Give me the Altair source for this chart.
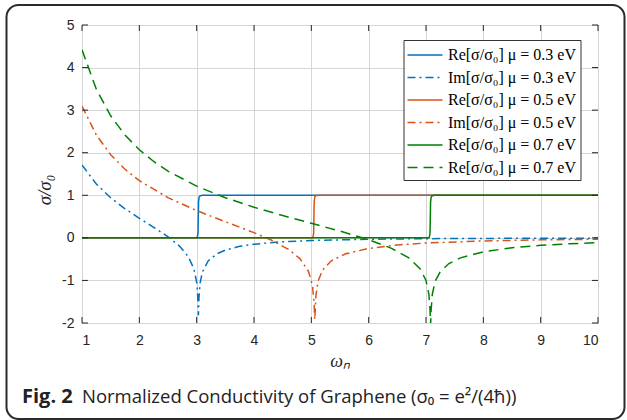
import altair as alt
import pandas as pd

# ---- conductivity samples (normalized frequency -> sigma/sigma0) ----
# Real parts: interband step at the 2*mu threshold
re03_w = [1.0, 3.008, 3.023, 3.033, 3.043, 3.063, 3.098, 10.0]
re05_w = [1.0, 5.025, 5.040, 5.050, 5.060, 5.080, 5.115, 10.0]
re07_w = [1.0, 7.055, 7.070, 7.080, 7.090, 7.110, 7.145, 10.0]
re_step_v = [0.0, 0.0, 0.1, 0.85, 0.96, 0.99, 1.0, 1.0]

# Imaginary parts, mu = 0.3 eV
im03_w = [1.0, 1.25, 1.5, 1.75, 2.0, 2.25, 2.5, 2.7, 2.85, 2.95, 3.0, 3.02, 3.025, 3.03,
          3.035, 3.04, 3.06, 3.1, 3.2, 3.35, 3.5, 3.75, 4.0, 4.5, 5.0, 6.0, 7.0, 8.0, 9.0, 10.0]
im03_v = [1.711, 1.264, 0.941, 0.683, 0.460, 0.249, 0.025, -0.194, -0.433, -0.719, -1.045,
          -1.400, -1.622, -1.82, -1.625, -1.405, -1.061, -0.801, -0.544, -0.377, -0.287,
          -0.199, -0.148, -0.091, -0.062, -0.033, -0.019, -0.013, -0.009, -0.006]

# Imaginary parts, mu = 0.5 eV
im05_w = [1.0, 1.25, 1.5, 1.75, 2.0, 2.5, 3.0, 3.5, 4.0, 4.3, 4.6, 4.8, 4.95, 5.02, 5.05, 5.058,
          5.065, 5.08, 5.12, 5.2, 5.35, 5.6, 6.0, 6.5, 7.0, 8.0, 9.0, 10.0]
im05_v = [3.094, 2.417, 1.953, 1.611, 1.345, 0.944, 0.640, 0.379, 0.122, -0.050, -0.269,
          -0.486, -0.785, -1.118, -1.564, -1.92, -1.787, -1.349, -1.005, -0.748, -0.538,
          -0.374, -0.248, -0.167, -0.121, -0.072, -0.047, -0.033]

# Imaginary parts, mu = 0.7 eV
im07_w = [1.0, 1.25, 1.5, 1.75, 2.0, 2.25, 2.5, 3.0, 3.5, 4.0, 4.5, 5.0, 5.5, 6.0, 6.4, 6.7,
          6.9, 7.0, 7.05, 7.07, 7.08, 7.09, 7.11, 7.16, 7.25, 7.4, 7.6, 8.0, 8.5, 9.0, 9.5, 10.0]
im07_v = [4.417, 3.492, 2.868, 2.415, 2.069, 1.794, 1.568, 1.215, 0.943, 0.719, 0.524, 0.342,
          0.159, -0.043, -0.247, -0.470, -0.732, -1.002, -1.320, -1.672, -2.05, -1.674,
          -1.327, -1.020, -0.790, -0.604, -0.470, -0.327, -0.232, -0.176, -0.138, -0.112]

series_keys = ["re03", "im03", "re05", "im05", "re07", "im07"]
series_labels = [
    "Re[σ/σ₀] μ = 0.3 eV",
    "Im[σ/σ₀] μ = 0.3 eV",
    "Re[σ/σ₀] μ = 0.5 eV",
    "Im[σ/σ₀] μ = 0.5 eV",
    "Re[σ/σ₀] μ = 0.7 eV",
    "Re[σ/σ₀] μ = 0.7 eV",
]
series_colors = ["#0072BD", "#0072BD", "#D95319", "#D95319", "#008000", "#008000"]
series_dashes = [[1, 0], [8, 4, 2, 4], [1, 0], [8, 4, 2, 4], [1, 0], [10, 6]]

x_ticks = list(range(1, 11))
y_ticks = list(range(-2, 6))

W, H = 516, 298

# ---- long-form table ----
frames = []
for key, w, v in [
    ("re03", re03_w, re_step_v),
    ("im03", im03_w, im03_v),
    ("re05", re05_w, re_step_v),
    ("im05", im05_w, im05_v),
    ("re07", re07_w, re_step_v),
    ("im07", im07_w, im07_v),
]:
    frames.append(pd.DataFrame({"omega": w, "value": v, "series": key}))
data = pd.concat(frames, ignore_index=True)

label_expr = " : ".join(
    f"datum.value == '{k}' ? '{lab}'" for k, lab in zip(series_keys, series_labels)
) + " : ''"

legend = alt.Legend(
    orient="none",
    legendX=321.5,
    legendY=15,
    symbolType="M-1.75,0H1.75",
    symbolSize=400,
    symbolStrokeWidth=1.5,
    symbolOffset=6.5,
    labelOffset=12,
    labelFont="Liberation Serif",
    labelFontSize=16,
    labelColor="black",
    labelLimit=400,
    labelExpr=label_expr,
    rowPadding=3.5,
    padding=4,
    strokeColor="#333333",
    fillColor="white",
)

x_scale = alt.Scale(domain=[1, 10], nice=False, zero=False)
y_scale = alt.Scale(domain=[-2, 5], nice=False, zero=False)

axis_common = dict(
    grid=True,
    gridColor="#d6d6d6",
    gridWidth=1,
    ticks=False,
    domain=False,
    labelFont="Liberation Sans",
    labelFontSize=14,
    labelColor="#262626",
    labelExpr="'' + datum.value",
    title=None,
)
x_axis = alt.Axis(values=x_ticks, labelPadding=10, **axis_common)
y_axis = alt.Axis(values=y_ticks, labelPadding=8, **axis_common)

lines = alt.Chart(data).mark_line(clip=True, strokeWidth=1.5).encode(
    x=alt.X("omega:Q", scale=x_scale, axis=x_axis),
    y=alt.Y("value:Q", scale=y_scale, axis=y_axis),
    color=alt.Color("series:N", title=None,
                    scale=alt.Scale(domain=series_keys, range=series_colors),
                    legend=legend),
    strokeDash=alt.StrokeDash("series:N", title=None,
                              scale=alt.Scale(domain=series_keys, range=series_dashes),
                              legend=legend),
)

# inward tick marks on all four sides of the box
xt = pd.DataFrame({"xt": x_ticks})
yt = pd.DataFrame({"yt": y_ticks})
tick_style = dict(color="#262626", strokeWidth=1)
ticks_bottom = alt.Chart(xt).mark_rule(**tick_style).encode(
    x=alt.X("xt:Q", scale=x_scale, axis=x_axis), y=alt.value(H), y2=alt.value(H - 6))
ticks_top = alt.Chart(xt).mark_rule(**tick_style).encode(
    x=alt.X("xt:Q", scale=x_scale, axis=x_axis), y=alt.value(0), y2=alt.value(6))
ticks_left = alt.Chart(yt).mark_rule(**tick_style).encode(
    y=alt.Y("yt:Q", scale=y_scale, axis=y_axis), x=alt.value(0), x2=alt.value(6))
ticks_right = alt.Chart(yt).mark_rule(**tick_style).encode(
    y=alt.Y("yt:Q", scale=y_scale, axis=y_axis), x=alt.value(W), x2=alt.value(W - 6))

# figure frame with rounded corners
frame = alt.Chart(pd.DataFrame({"f": [0]})).mark_rect(
    cornerRadius=12, fillOpacity=0, stroke="#2b2b2b", strokeWidth=2
).encode(x=alt.value(-75.5), x2=alt.value(542.5), y=alt.value(-20), y2=alt.value(394))

# axis titles
x_title = alt.Chart(pd.DataFrame({"t": ["ωₙ"]})).mark_text(
    font="Liberation Serif", fontStyle="italic", fontSize=18, color="#262626",
    align="center", baseline="middle"
).encode(text="t:N", x=alt.value(W / 2), y=alt.value(337))

y_title = alt.Chart(pd.DataFrame({"t": ["σ/σ₀"]})).mark_text(
    font="Liberation Serif", fontStyle="italic", fontSize=19, color="#262626",
    align="center", baseline="middle", angle=270
).encode(text="t:N", x=alt.value(-37), y=alt.value(165))

# caption
cap_bold = alt.Chart(pd.DataFrame({"t": ["Fig. 2"]})).mark_text(
    font="Open Sans", fontWeight="bold", fontSize=20, color="#222222",
    align="left", baseline="alphabetic"
).encode(text="t:N", x=alt.value(-60), y=alt.value(377.5))

cap_text = alt.Chart(pd.DataFrame({"t": ["Normalized Conductivity of Graphene (σ₀ = e²/(4ħ))"]})).mark_text(
    font="Open Sans", fontSize=18.5, color="#222222",
    align="left", baseline="alphabetic"
).encode(text="t:N", x=alt.value(0), y=alt.value(377.5))

chart = alt.layer(
    frame, lines, ticks_bottom, ticks_top, ticks_left, ticks_right,
    x_title, y_title, cap_bold, cap_text
).properties(
    width=W,
    height=H,
    autosize=alt.AutoSizeParams(type="none"),
    padding={"left": 82, "top": 25, "right": 29, "bottom": 97},
    background="white",
).configure_view(stroke="#262626", strokeWidth=1)

chart.save("out.html", embed_options={"renderer": "svg", "actions": False})
